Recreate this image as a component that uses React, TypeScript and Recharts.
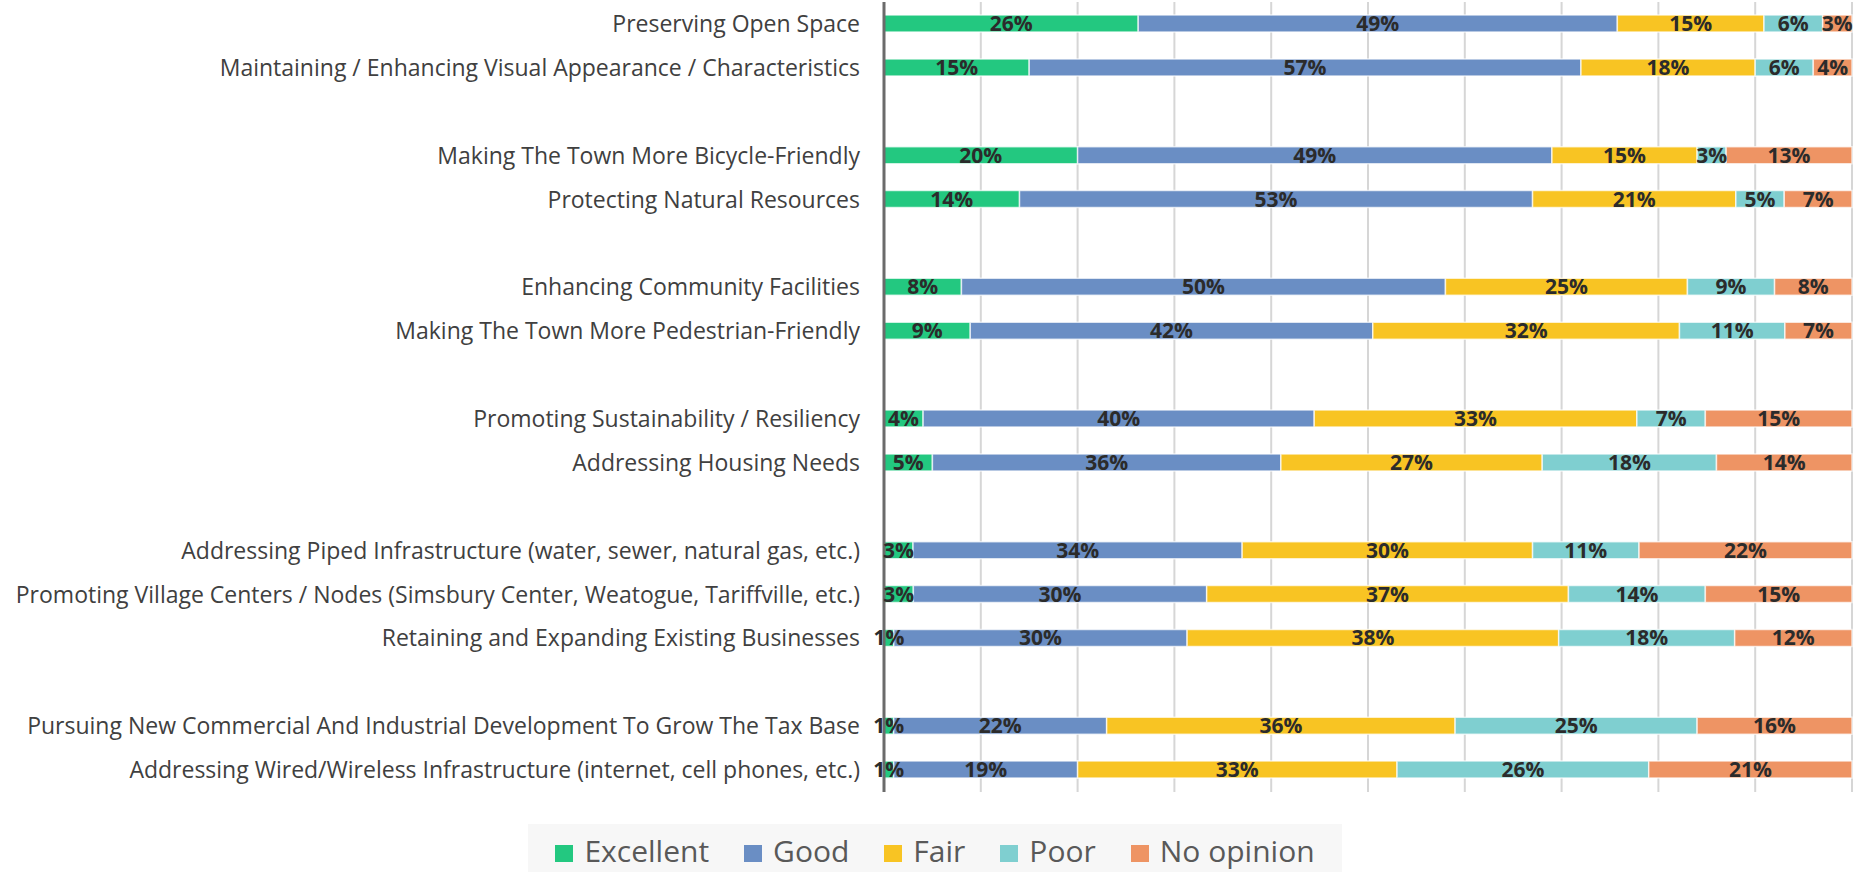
import { Bar, BarChart, CartesianGrid, LabelList, Legend, XAxis, YAxis } from 'recharts';

// Row order top → bottom; empty strings are the spacer rows between groups.
const categories = [
  'Preserving Open Space',
  'Maintaining / Enhancing Visual Appearance / Characteristics',
  '',
  'Making The Town More Bicycle-Friendly',
  'Protecting Natural Resources',
  '',
  'Enhancing Community Facilities',
  'Making The Town More Pedestrian-Friendly',
  '',
  'Promoting Sustainability / Resiliency',
  'Addressing Housing Needs',
  '',
  'Addressing Piped Infrastructure (water, sewer, natural gas, etc.)',
  'Promoting Village Centers / Nodes (Simsbury Center, Weatogue, Tariffville, etc.)',
  'Retaining and Expanding Existing Businesses',
  '',
  'Pursuing New Commercial And Industrial Development To Grow The Tax Base',
  'Addressing Wired/Wireless Infrastructure (internet, cell phones, etc.)',
];

const excellent = [26, 15, null, 20, 14, null, 8, 9, null, 4, 5, null, 3, 3, 1, null, 1, 1];
const good = [49, 57, null, 49, 53, null, 50, 42, null, 40, 36, null, 34, 30, 30, null, 22, 19];
const fair = [15, 18, null, 15, 21, null, 25, 32, null, 33, 27, null, 30, 37, 38, null, 36, 33];
const poor = [6, 6, null, 3, 5, null, 9, 11, null, 7, 18, null, 11, 14, 18, null, 25, 26];
const noOpinion = [3, 4, null, 13, 7, null, 8, 7, null, 15, 14, null, 22, 15, 12, null, 16, 21];

const gridTicks = [0, 0.1, 0.2, 0.3, 0.4, 0.5, 0.6, 0.7, 0.8, 0.9, 1];

const series = [
  { key: 'excellent', name: 'Excellent', color: '#23C880' },
  { key: 'good', name: 'Good', color: '#6A8EC4' },
  { key: 'fair', name: 'Fair', color: '#F8C423' },
  { key: 'poor', name: 'Poor', color: '#7FCFD0' },
  { key: 'noOpinion', name: 'No opinion', color: '#EE9464' },
];

const data = categories.map((name, i) => ({
  name,
  excellent: excellent[i],
  good: good[i],
  fair: fair[i],
  poor: poor[i],
  noOpinion: noOpinion[i],
}));

const FONT = "'Open Sans', 'Noto Sans', sans-serif";

const CategoryTick = ({ x, y, payload }: any) => (
  <text x={x} y={y} dy={8} textAnchor="end" fill="#404040" fontSize={23} fontFamily={FONT}>
    {payload.value}
  </text>
);

const pct = (v: any) => (v == null ? '' : `${v}%`);

function LegendBox() {
  return (
    <div
      style={{
        height: 48,
        background: '#f7f7f7',
        display: 'flex',
        justifyContent: 'center',
        alignItems: 'center',
        gap: 35,
        paddingTop: 6,
        boxSizing: 'border-box',
        fontFamily: FONT,
        fontSize: 30,
        color: '#595959',
      }}
    >
      {series.map((s) => (
        <div key={s.key} style={{ display: 'flex', alignItems: 'center', gap: 11 }}>
          <span style={{ width: 18, height: 17, background: s.color, display: 'inline-block', marginTop: 4 }} />
          <span style={{ lineHeight: '36px' }}>{s.name}</span>
        </div>
      ))}
    </div>
  );
}

export default function App() {
  return (
    <div style={{ width: 1854, height: 872, background: '#fff' }}>
      <style>{'body{margin:0}'}</style>
      <BarChart
        width={1854}
        height={872}
        data={data}
        layout="vertical"
        stackOffset="expand"
        barSize={17}
        margin={{ top: 2, right: 2, bottom: 32, left: 0 }}
      >
        <CartesianGrid horizontal={false} stroke="#d6d6d6" strokeWidth={2} />
        <XAxis type="number" domain={[0, 1]} ticks={gridTicks} hide />
        <YAxis
          type="category"
          dataKey="name"
          width={884}
          interval={0}
          tickLine={false}
          tickSize={0}
          tickMargin={24}
          axisLine={{ stroke: '#6b6b6b', strokeWidth: 3 }}
          tick={<CategoryTick />}
        />
        {series.map((s) => (
          <Bar
            key={s.key}
            dataKey={s.key}
            name={s.name}
            stackId="a"
            fill={s.color}
            stroke="#ffffff"
            strokeOpacity={0.7}
            strokeWidth={1.5}
            isAnimationActive={false}
          >
            <LabelList
              dataKey={s.key}
              position="center"
              formatter={pct}
              fill="#2b2b2b"
              fontSize={21}
              fontWeight={700}
              fontFamily={FONT}
            />
          </Bar>
        ))}
        <Legend
          verticalAlign="bottom"
          content={<LegendBox />}
          wrapperStyle={{ left: 528, bottom: 0, width: 814, height: 48 }}
        />
      </BarChart>
    </div>
  );
}
